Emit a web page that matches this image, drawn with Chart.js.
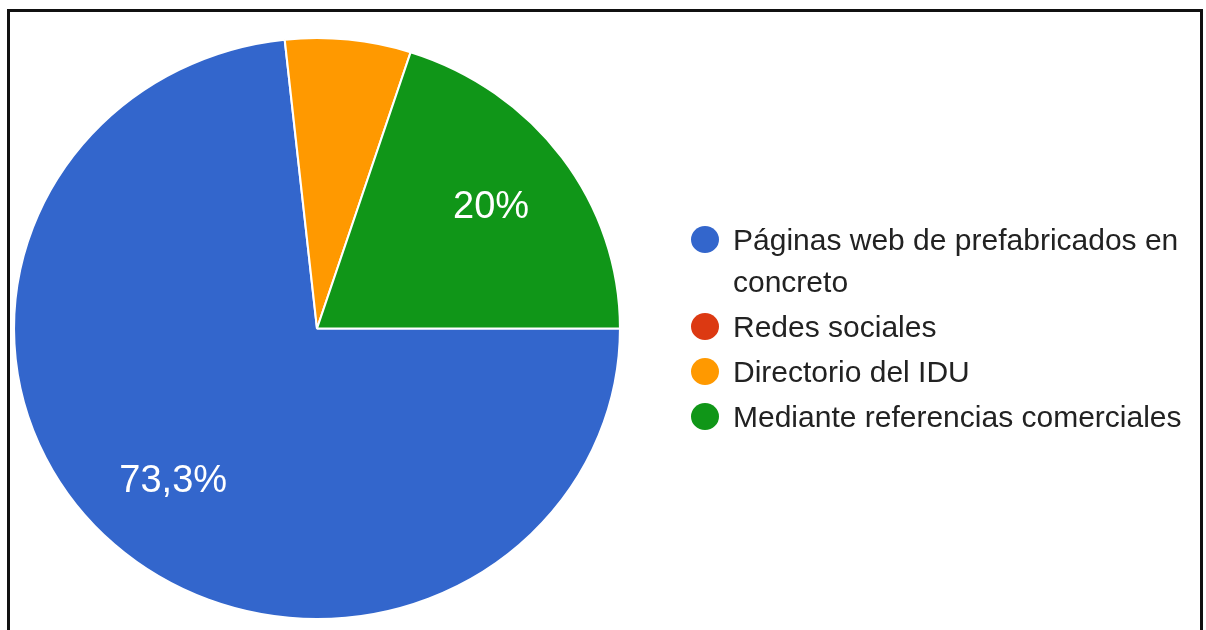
<!DOCTYPE html>
<html>
<head>
<meta charset="utf-8">
<script src="https://cdn.jsdelivr.net/npm/chart.js@4/dist/chart.umd.min.js"></script>
<style>
  html, body { margin: 0; padding: 0; background: #fff; overflow: hidden; }
  body { width: 1206px; height: 630px; position: relative; font-family: Arial, "Liberation Sans", sans-serif; }
  #frame { position: absolute; left: 7px; top: 9px; width: 1196px; height: 700px; border: 3px solid #111; box-sizing: border-box; }
  #pie { position: absolute; left: 0; top: 0; }
  #legend { position: absolute; left: 691px; top: 219px; width: 500px; margin: 0; padding: 0; list-style: none; }
  #legend li { display: flex; align-items: flex-start; margin-bottom: 3px; }
  #legend .dot { flex: 0 0 auto; width: 28px; height: 27px; border-radius: 50%; margin-top: 7px; margin-right: 14px; }
  #legend .txt { width: 460px; font-size: 30px; line-height: 42px; color: #222; }
</style>
</head>
<body>
<div id="frame"></div>
<canvas id="pie" width="1206" height="630"></canvas>
<ul id="legend"></ul>
<script>
const labels = ['Páginas web de prefabricados en concreto', 'Redes sociales', 'Directorio del IDU', 'Mediante referencias comerciales']
const percents = [73.3, 0, 6.7, 20]
const colors = ['#3366cc', '#dc3912', '#ff9900', '#109618']

// the drawing is a touch wider than tall
const stretchX = 1.043
const centerX = 317

const legend = document.querySelector('#legend')
labels.forEach((text, i) => {
    const li = document.createElement('li')
    li.innerHTML = `<span class="dot" style="background:${colors[i]}"></span><span class="txt">${text}</span>`
    legend.appendChild(li)
})

const stretch = {
    id: 'stretch',
    beforeDatasetsDraw(chart) {
        const ctx = chart.ctx
        ctx.save()
        ctx.translate(centerX, 0)
        ctx.scale(stretchX, 1)
        ctx.translate(-centerX, 0)
    },
    afterDatasetsDraw(chart) {
        const ctx = chart.ctx
        ctx.restore()

        // percentage text inside the bigger slices
        const meta = chart.getDatasetMeta(0)
        ctx.save()
        ctx.fillStyle = '#ffffff'
        ctx.font = '38px Arial, "Liberation Sans", sans-serif'
        ctx.textAlign = 'center'
        ctx.textBaseline = 'middle'
        meta.data.forEach((arc, i) => {
            const v = percents[i]
            if (v < 10) return
            const p = arc.getProps(['x', 'y', 'startAngle', 'endAngle', 'outerRadius'], true)
            const mid = (p.startAngle + p.endAngle) / 2
            const r = p.outerRadius * 0.71
            const x = centerX + (p.x - centerX + Math.cos(mid) * r) * stretchX
            const y = p.y + Math.sin(mid) * r
            ctx.fillText(String(v).replace('.', ',') + '%', x, y)
        })
        ctx.restore()
    }
}

new Chart(
    document.querySelector('#pie'),
    {
        type: 'pie',
        data: {
            labels: labels,
            datasets: [
                {
                    data: percents,
                    backgroundColor: colors,
                    borderColor: '#ffffff',
                    borderWidth: 2,
                    hoverOffset: 0
                }
            ]
        },
        options: {
            responsive: false,
            animation: false,
            rotation: 90,
            radius: 290.5,
            layout: {
                padding: { left: 25.5, top: 37, right: 597.5, bottom: 10 }
            },
            plugins: {
                legend: { display: false },
                tooltip: { enabled: false }
            }
        },
        plugins: [stretch]
    }
);
</script>
</body>
</html>
